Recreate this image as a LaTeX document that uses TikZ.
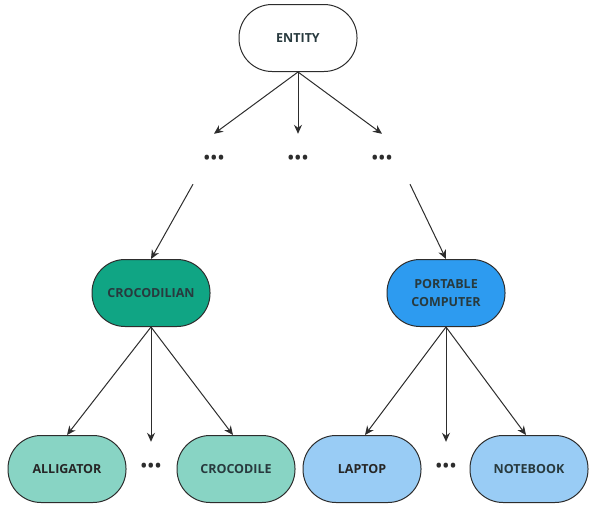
\documentclass[tikz,border=0pt]{standalone}
\usepackage{fontspec}
\setmainfont{Open Sans}
\usetikzlibrary{arrows.meta}

\definecolor{crocfill}{RGB}{16,165,132}
\definecolor{reptfill}{RGB}{136,212,196}
\definecolor{compfill}{RGB}{45,155,240}
\definecolor{lapfill}{RGB}{153,204,245}
\definecolor{ink}{RGB}{45,45,45}
\definecolor{txt}{RGB}{40,58,62}

\newcommand{\moredots}{•\kern1pt•\kern1pt•}

\begin{document}
\begin{tikzpicture}[x=1pt,y=-1pt,
    box/.style={draw=ink, line width=1pt, rounded corners=33pt, minimum width=118pt,
        minimum height=67pt, align=center, text=txt,
        font=\bfseries\fontsize{12.5}{17.5}\selectfont},
    more/.style={minimum width=44pt, minimum height=50pt, text=ink,
        font=\bfseries\fontsize{16}{16}\selectfont},
    link/.style={draw=ink, line width=1pt, -{Stealth[length=9pt,width=8pt]}}]
    \useasboundingbox (0,0) rectangle (592,504);

    \node[box, fill=white] (entity) at (298,38) {ENTITY};
    \node[more] (dl) at (214,159) {\moredots};
    \node[more] (dm) at (298,159) {\moredots};
    \node[more] (dr) at (382,159) {\moredots};

    \node[box, fill=crocfill] (croc) at (151,293) {CROCODILIAN};
    \node[box, fill=compfill] (comp) at (446,293) {PORTABLE\\COMPUTER};

    \node[box, fill=reptfill, text=black!85] (alli) at (67,469) {ALLIGATOR};
    \node[more] (cdots) at (151,467) {\moredots};
    \node[box, fill=reptfill] (crocd) at (236,469) {CROCODILE};
    \node[box, fill=lapfill, text=black!85] (lap) at (362,469) {LAPTOP};
    \node[more] (pdots) at (446,467) {\moredots};
    \node[box, fill=lapfill] (note) at (529,469) {NOTEBOOK};

    \draw[link] (entity.south) -- (dl.north);
    \draw[link] (entity.south) -- (dm.north);
    \draw[link] (entity.south) -- (dr.north);
    \draw[link] ([xshift=-21pt]dl.south) -- (croc.north);
    \draw[link] ([xshift=28pt]dr.south) -- (comp.north);

    \draw[link] (croc.south) -- (alli.north);
    \draw[link] (croc.south) -- (cdots.north);
    \draw[link] (croc.south) -- ([xshift=-3pt]crocd.north);
    \draw[link] (comp.south) -- ([xshift=3pt]lap.north);
    \draw[link] (comp.south) -- (pdots.north);
    \draw[link] (comp.south) -- ([xshift=-3pt]note.north);
\end{tikzpicture}
\end{document}
